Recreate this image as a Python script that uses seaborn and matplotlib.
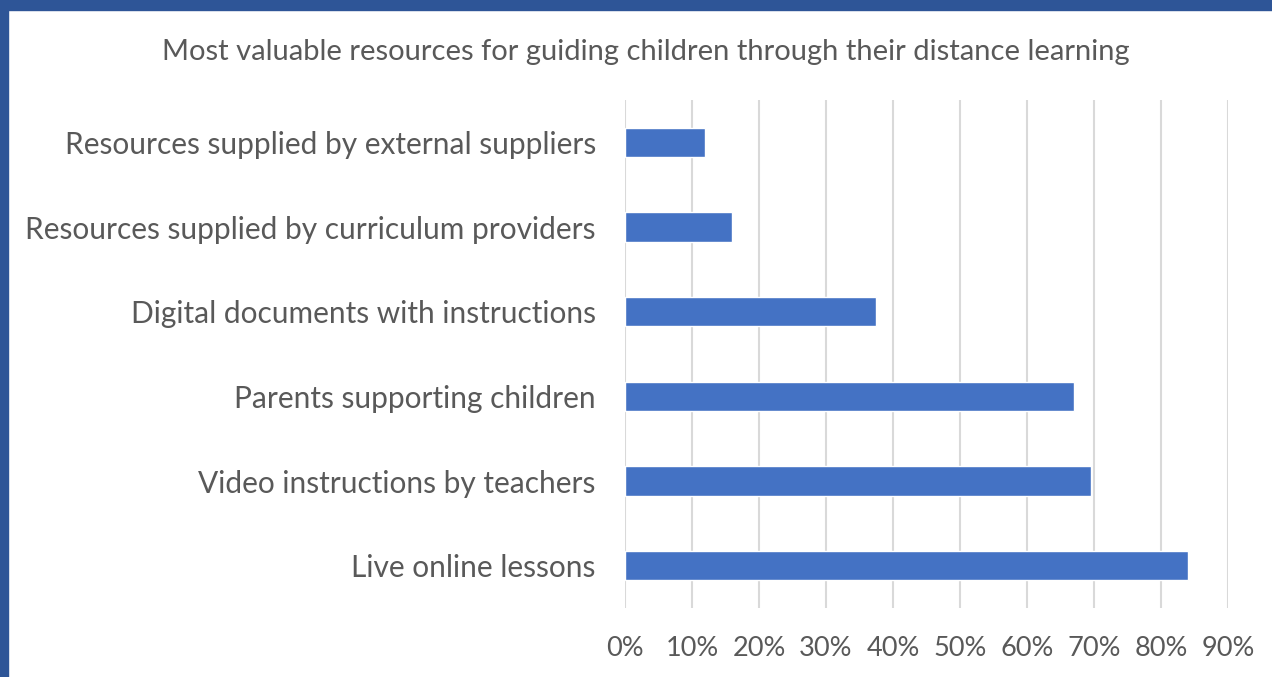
import matplotlib
matplotlib.use("Agg")
import matplotlib.pyplot as plt
import seaborn as sns
import pandas as pd
from matplotlib.patches import Rectangle
from matplotlib.ticker import PercentFormatter

# === Datos ===
recursos = [
    "Resources supplied by external suppliers",
    "Resources supplied by curriculum providers",
    "Digital documents with instructions",
    "Parents supporting children",
    "Video instructions by teachers",
    "Live online lessons",
]
valores = [0.12, 0.16, 0.375, 0.67, 0.695, 0.84]
ticks_x = [0.0, 0.1, 0.2, 0.3, 0.4, 0.5, 0.6, 0.7, 0.8, 0.9]

df = pd.DataFrame({"Recurso": recursos, "Valor": valores})

sns.set_style("white")
plt.rcParams["font.family"] = ["Lato", "DejaVu Sans"]
gris = "#595959"

fig = plt.figure(figsize=(12.72, 6.77), dpi=100)
ax = fig.add_axes([625 / 1272, 1 - 608 / 677, (1228 - 625) / 1272, (608 - 100) / 677])

sns.barplot(data=df, x="Valor", y="Recurso", orient="h", color="#4472C4",
            width=0.35, saturation=1, ax=ax, zorder=3)

ax.set_xlim(0, 0.9)
ax.set_ylim(5.5, -0.5)
ax.set_xticks(ticks_x)
ax.xaxis.set_major_formatter(PercentFormatter(1.0, decimals=0))
ax.grid(axis="x", color="#D9D9D9", linewidth=1.5, zorder=0)
ax.set_axisbelow(True)
for s in ax.spines.values():
    s.set_visible(False)
ax.tick_params(axis="both", length=0, colors=gris)
ax.tick_params(axis="y", pad=21, labelsize=21.5)
ax.tick_params(axis="x", pad=20, labelsize=19.5)
ax.set_xlabel("")
ax.set_ylabel("")

fig.text(646 / 1272, 1 - 52 / 677,
         "Most valuable resources for guiding children through their distance learning",
         ha="center", va="center", fontsize=21, color=gris)

# === Marco azul ===
azul = "#2E5597"
fig.add_artist(Rectangle((0, 1 - 10 / 677), 1, 10 / 677, transform=fig.transFigure,
                         color=azul, zorder=10))
fig.add_artist(Rectangle((0, 0), 8 / 1272, 1, transform=fig.transFigure,
                         color=azul, zorder=10))

fig.savefig("out.png", dpi=100, facecolor="white")
